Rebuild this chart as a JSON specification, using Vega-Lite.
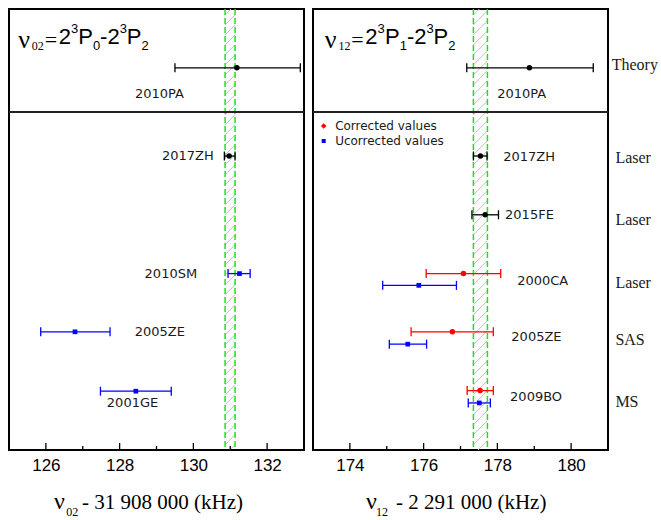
{
"$schema":"https://vega.github.io/schema/vega-lite/v6.json",
"background":"white",
"padding":{"left":7,"top":7,"right":0,"bottom":0},
"spacing":9,
"bounds":"flush",
"config":{"view":{"stroke":"#000000","strokeWidth":2},"axis":{"ticks":false,"domain":false,"grid":false,"labelFont":"Liberation Sans","labelFontSize":17,"labelColor":"#000000","labelPadding":7,"title":null,"labelFlush":false,"tickCount":4}},
"datasets":{
"pts":[
{"p":"L","n":"2010PA","t":"k","v":131.18,"lo":129.50,"hi":132.90,"y":1.0},
{"p":"L","n":"2017ZH","t":"k","v":130.97,"lo":130.84,"hi":131.13,"y":2.5},
{"p":"L","n":"2010SM","t":"b","v":131.25,"lo":130.94,"hi":131.54,"y":4.5},
{"p":"L","n":"2005ZE","t":"b","v":126.79,"lo":125.86,"hi":127.74,"y":5.49},
{"p":"L","n":"2001GE","t":"b","v":128.44,"lo":127.48,"hi":129.40,"y":6.5},
{"p":"R","n":"2010PA","t":"k","v":178.87,"lo":177.17,"hi":180.60,"y":1.0},
{"p":"R","n":"2017ZH","t":"k","v":177.54,"lo":177.35,"hi":177.72,"y":2.5},
{"p":"R","n":"2015FE","t":"k","v":177.67,"lo":177.31,"hi":178.03,"y":3.5},
{"p":"R","n":"2000CA","t":"r","v":177.08,"lo":176.07,"hi":178.09,"y":4.5},
{"p":"R","n":"2000CA","t":"b","v":175.87,"lo":174.89,"hi":176.89,"y":4.7},
{"p":"R","n":"2005ZE","t":"r","v":176.78,"lo":175.66,"hi":177.89,"y":5.49},
{"p":"R","n":"2005ZE","t":"b","v":175.57,"lo":175.07,"hi":176.08,"y":5.7},
{"p":"R","n":"2009BO","t":"r","v":177.53,"lo":177.18,"hi":177.89,"y":6.49},
{"p":"R","n":"2009BO","t":"b","v":177.51,"lo":177.21,"hi":177.81,"y":6.7}
],
"bands":[{"p":"L","lo":130.86,"hi":131.13},{"p":"R","lo":177.35,"hi":177.73}],
"hatch":[{"h":0.10},{"h":0.27},{"h":0.44},{"h":0.61},{"h":0.78},{"h":0.95},{"h":1.12},{"h":1.29},{"h":1.46},{"h":1.63},{"h":1.80},{"h":1.97},{"h":2.14},{"h":2.31},{"h":2.48},{"h":2.65},{"h":2.82},{"h":2.99},{"h":3.16},{"h":3.33},{"h":3.50},{"h":3.67},{"h":3.84},{"h":4.01},{"h":4.18},{"h":4.35},{"h":4.52},{"h":4.69},{"h":4.86},{"h":5.03},{"h":5.20},{"h":5.37},{"h":5.54},{"h":5.71},{"h":5.88},{"h":6.05},{"h":6.22},{"h":6.39},{"h":6.56},{"h":6.73},{"h":6.90},{"h":7.07},{"h":7.24},{"h":7.41},{"h":7.58},{"h":7.75}],
"ticks":[
{"p":"L","x":126,"k":"M"},{"p":"L","x":128,"k":"M"},{"p":"L","x":130,"k":"M"},{"p":"L","x":132,"k":"M"},
{"p":"L","x":127,"k":"m"},{"p":"L","x":129,"k":"m"},{"p":"L","x":131,"k":"m"},
{"p":"R","x":174,"k":"M"},{"p":"R","x":176,"k":"M"},{"p":"R","x":178,"k":"M"},{"p":"R","x":180,"k":"M"},
{"p":"R","x":175,"k":"m"},{"p":"R","x":177,"k":"m"},{"p":"R","x":179,"k":"m"}
],
"lab":[
{"p":"L","x":129.08,"y":1.446,"s":"2010PA"},
{"p":"L","x":129.85,"y":2.5,"s":"2017ZH"},
{"p":"L","x":129.39,"y":4.5,"s":"2010SM"},
{"p":"L","x":129.09,"y":5.49,"s":"2005ZE"},
{"p":"L","x":128.35,"y":6.70,"s":"2001GE"},
{"p":"R","x":178.66,"y":1.446,"s":"2010PA"},
{"p":"R","x":178.86,"y":2.52,"s":"2017ZH"},
{"p":"R","x":178.87,"y":3.5,"s":"2015FE"},
{"p":"R","x":179.23,"y":4.63,"s":"2000CA"},
{"p":"R","x":179.06,"y":5.58,"s":"2005ZE"},
{"p":"R","x":179.05,"y":6.6,"s":"2009BO"}
],
"cats":[
{"x":181.1,"y":0.95,"s":"Theory"},
{"x":181.2,"y":2.53,"s":"Laser"},
{"x":181.2,"y":3.59,"s":"Laser"},
{"x":181.2,"y":4.66,"s":"Laser"},
{"x":181.2,"y":5.63,"s":"SAS"},
{"x":181.2,"y":6.68,"s":"MS"}
],
"leg":[
{"t":"r","x":173.29,"tx":173.60,"y":1.99,"s":"Corrected values"},
{"t":"b","x":173.29,"tx":173.60,"y":2.245,"s":"Ucorrected values"}
],
"txt":[
{"p":"L","k":"s26","x":125.25,"y":0.655,"s":"ν"},
{"p":"L","k":"s12","x":125.62,"y":0.697,"s":"02"},
{"p":"L","k":"eq","x":125.97,"y":0.641,"s":"="},
{"p":"L","k":"a22","x":126.35,"y":0.595,"s":"2"},
{"p":"L","k":"a13","x":126.68,"y":0.408,"s":"3"},
{"p":"L","k":"a22","x":126.88,"y":0.595,"s":"P"},
{"p":"L","k":"a13","x":127.28,"y":0.697,"s":"0"},
{"p":"L","k":"a22","x":127.47,"y":0.595,"s":"-2"},
{"p":"L","k":"a13","x":128.00,"y":0.408,"s":"3"},
{"p":"L","k":"a22","x":128.19,"y":0.595,"s":"P"},
{"p":"L","k":"a13","x":128.59,"y":0.697,"s":"2"},
{"p":"L","k":"s24","x":126.22,"y":8.508,"s":"ν"},
{"p":"L","k":"s12","x":126.55,"y":8.62,"s":"02"},
{"p":"L","k":"s21","x":126.98,"y":8.508,"s":"- 31 908 000 (kHz)"},
{"p":"R","k":"s26","x":173.32,"y":0.655,"s":"ν"},
{"p":"R","k":"s12","x":173.69,"y":0.697,"s":"12"},
{"p":"R","k":"eq","x":174.04,"y":0.641,"s":"="},
{"p":"R","k":"a22","x":174.42,"y":0.595,"s":"2"},
{"p":"R","k":"a13","x":174.75,"y":0.408,"s":"3"},
{"p":"R","k":"a22","x":174.95,"y":0.595,"s":"P"},
{"p":"R","k":"a13","x":175.35,"y":0.697,"s":"1"},
{"p":"R","k":"a22","x":175.55,"y":0.595,"s":"-2"},
{"p":"R","k":"a13","x":176.08,"y":0.408,"s":"3"},
{"p":"R","k":"a22","x":176.27,"y":0.595,"s":"P"},
{"p":"R","k":"a13","x":176.67,"y":0.697,"s":"2"},
{"p":"R","k":"s24","x":174.44,"y":8.508,"s":"ν"},
{"p":"R","k":"s12","x":174.71,"y":8.62,"s":"12"},
{"p":"R","k":"s21","x":175.25,"y":8.508,"s":"- 2 291 000 (kHz)"}
]
},
"hconcat":[
{"width":295,"height":441,
"layer":[
{"data":{"name":"hatch"},"mark":{"type":"rule","color":"#bfbfbf","strokeWidth":1,"y2Offset":-10,"clip":true},
 "encoding":{"x":{"datum":130.86,"type":"quantitative","scale":{"domain":[125,133],"nice":false,"zero":false}},"x2":{"datum":131.13},"y":{"field":"h","type":"quantitative","scale":{"domain":[0,7.5],"reverse":true,"nice":false,"zero":false},"axis":null},"y2":{"field":"h"}}},
{"data":{"name":"bands"},"transform":[{"filter":"datum.p=='L'"}],"mark":{"type":"rule","color":"#1fe01f","strokeWidth":1.5,"strokeDash":[6,3]},
 "encoding":{"x":{"field":"lo","type":"quantitative","scale":{"domain":[125,133],"nice":false,"zero":false}}}},
{"data":{"name":"bands"},"transform":[{"filter":"datum.p=='L'"}],"mark":{"type":"rule","color":"#1fe01f","strokeWidth":1.5,"strokeDash":[6,3]},
 "encoding":{"x":{"field":"hi","type":"quantitative","scale":{"domain":[125,133],"nice":false,"zero":false}}}},
{"data":{"name":"bands"},"transform":[{"filter":"datum.p=='L'"}],"mark":{"type":"rule","color":"#222222","strokeWidth":2},
 "encoding":{"y":{"datum":1.75,"type":"quantitative","scale":{"domain":[0,7.5],"reverse":true,"nice":false,"zero":false},"axis":null}}},
{"data":{"name":"ticks"},"transform":[{"filter":"datum.p=='L' && datum.k=='M'"}],"mark":{"type":"rule","color":"#000000","strokeWidth":1.3,"y2Offset":-7},
 "encoding":{"x":{"field":"x","type":"quantitative","scale":{"domain":[125,133],"nice":false,"zero":false}},"y":{"datum":7.5,"type":"quantitative","scale":{"domain":[0,7.5],"reverse":true,"nice":false,"zero":false},"axis":null},"y2":{"datum":7.5}}},
{"data":{"name":"ticks"},"transform":[{"filter":"datum.p=='L' && datum.k=='m'"}],"mark":{"type":"rule","color":"#000000","strokeWidth":1.3,"y2Offset":-4},
 "encoding":{"x":{"field":"x","type":"quantitative","scale":{"domain":[125,133],"nice":false,"zero":false}},"y":{"datum":7.5,"type":"quantitative","scale":{"domain":[0,7.5],"reverse":true,"nice":false,"zero":false},"axis":null},"y2":{"datum":7.5}}},
{"data":{"name":"pts"},"transform":[{"filter":"datum.p=='L'"}],"mark":{"type":"rule","strokeWidth":1.3},
 "encoding":{"x":{"field":"lo","type":"quantitative","scale":{"domain":[125,133],"nice":false,"zero":false}},"x2":{"field":"hi"},"y":{"field":"y","type":"quantitative","scale":{"domain":[0,7.5],"reverse":true,"nice":false,"zero":false},"axis":null},
 "color":{"field":"t","type":"nominal","scale":{"domain":["k","r","b"],"range":["#000000","#ff0000","#0000ff"]},"legend":null}}},
{"data":{"name":"pts"},"transform":[{"filter":"datum.p=='L'"}],"mark":{"type":"point","shape":"M0,-1L0,1","size":81,"filled":false,"strokeWidth":1.3,"opacity":1},
 "encoding":{"x":{"field":"lo","type":"quantitative","scale":{"domain":[125,133],"nice":false,"zero":false}},"y":{"field":"y","type":"quantitative","scale":{"domain":[0,7.5],"reverse":true,"nice":false,"zero":false},"axis":null},
 "color":{"field":"t","type":"nominal","scale":{"domain":["k","r","b"],"range":["#000000","#ff0000","#0000ff"]},"legend":null}}},
{"data":{"name":"pts"},"transform":[{"filter":"datum.p=='L'"}],"mark":{"type":"point","shape":"M0,-1L0,1","size":81,"filled":false,"strokeWidth":1.3,"opacity":1},
 "encoding":{"x":{"field":"hi","type":"quantitative","scale":{"domain":[125,133],"nice":false,"zero":false}},"y":{"field":"y","type":"quantitative","scale":{"domain":[0,7.5],"reverse":true,"nice":false,"zero":false},"axis":null},
 "color":{"field":"t","type":"nominal","scale":{"domain":["k","r","b"],"range":["#000000","#ff0000","#0000ff"]},"legend":null}}},
{"data":{"name":"pts"},"transform":[{"filter":"datum.p=='L' && datum.t!='b'"}],"mark":{"type":"point","shape":"circle","size":30,"filled":true,"opacity":1},
 "encoding":{"x":{"field":"v","type":"quantitative","scale":{"domain":[125,133],"nice":false,"zero":false}},"y":{"field":"y","type":"quantitative","scale":{"domain":[0,7.5],"reverse":true,"nice":false,"zero":false},"axis":null},
 "color":{"field":"t","type":"nominal","scale":{"domain":["k","r","b"],"range":["#000000","#ff0000","#0000ff"]},"legend":null}}},
{"data":{"name":"pts"},"transform":[{"filter":"datum.p=='L' && datum.t=='b'"}],"mark":{"type":"point","shape":"square","size":22,"filled":true,"opacity":1},
 "encoding":{"x":{"field":"v","type":"quantitative","scale":{"domain":[125,133],"nice":false,"zero":false}},"y":{"field":"y","type":"quantitative","scale":{"domain":[0,7.5],"reverse":true,"nice":false,"zero":false},"axis":null},
 "color":{"field":"t","type":"nominal","scale":{"domain":["k","r","b"],"range":["#000000","#ff0000","#0000ff"]},"legend":null}}},
{"data":{"name":"lab"},"transform":[{"filter":"datum.p=='L'"}],"mark":{"type":"text","font":"DejaVu Sans","fontSize":13,"align":"center","baseline":"middle","color":"#1a1a1a"},
 "encoding":{"x":{"field":"x","type":"quantitative","scale":{"domain":[125,133],"nice":false,"zero":false}},"y":{"field":"y","type":"quantitative","scale":{"domain":[0,7.5],"reverse":true,"nice":false,"zero":false},"axis":null},"text":{"field":"s"}}},
{"data":{"name":"txt"},"transform":[{"filter":"datum.p=='L' && datum.k=='s26'"}],"mark":{"type":"text","font":"Liberation Serif","fontSize":26,"align":"left","baseline":"alphabetic","color":"#000000"},
 "encoding":{"x":{"field":"x","type":"quantitative","scale":{"domain":[125,133],"nice":false,"zero":false}},"y":{"field":"y","type":"quantitative","scale":{"domain":[0,7.5],"reverse":true,"nice":false,"zero":false},"axis":null},"text":{"field":"s"}}},
{"data":{"name":"txt"},"transform":[{"filter":"datum.p=='L' && datum.k=='s24'"}],"mark":{"type":"text","font":"Liberation Serif","fontSize":24,"align":"left","baseline":"alphabetic","color":"#000000"},
 "encoding":{"x":{"field":"x","type":"quantitative","scale":{"domain":[125,133],"nice":false,"zero":false}},"y":{"field":"y","type":"quantitative","scale":{"domain":[0,7.5],"reverse":true,"nice":false,"zero":false},"axis":null},"text":{"field":"s"}}},
{"data":{"name":"txt"},"transform":[{"filter":"datum.p=='L' && datum.k=='eq'"}],"mark":{"type":"text","font":"Liberation Serif","fontSize":22,"align":"left","baseline":"alphabetic","color":"#000000"},
 "encoding":{"x":{"field":"x","type":"quantitative","scale":{"domain":[125,133],"nice":false,"zero":false}},"y":{"field":"y","type":"quantitative","scale":{"domain":[0,7.5],"reverse":true,"nice":false,"zero":false},"axis":null},"text":{"field":"s"}}},
{"data":{"name":"txt"},"transform":[{"filter":"datum.p=='L' && datum.k=='s12'"}],"mark":{"type":"text","font":"Liberation Serif","fontSize":12,"align":"left","baseline":"alphabetic","color":"#000000"},
 "encoding":{"x":{"field":"x","type":"quantitative","scale":{"domain":[125,133],"nice":false,"zero":false}},"y":{"field":"y","type":"quantitative","scale":{"domain":[0,7.5],"reverse":true,"nice":false,"zero":false},"axis":null},"text":{"field":"s"}}},
{"data":{"name":"txt"},"transform":[{"filter":"datum.p=='L' && datum.k=='s21'"}],"mark":{"type":"text","font":"Liberation Serif","fontSize":21,"align":"left","baseline":"alphabetic","color":"#000000"},
 "encoding":{"x":{"field":"x","type":"quantitative","scale":{"domain":[125,133],"nice":false,"zero":false}},"y":{"field":"y","type":"quantitative","scale":{"domain":[0,7.5],"reverse":true,"nice":false,"zero":false},"axis":null},"text":{"field":"s"}}},
{"data":{"name":"txt"},"transform":[{"filter":"datum.p=='L' && datum.k=='a22'"}],"mark":{"type":"text","font":"Liberation Sans","fontSize":22,"align":"left","baseline":"alphabetic","color":"#000000"},
 "encoding":{"x":{"field":"x","type":"quantitative","scale":{"domain":[125,133],"nice":false,"zero":false}},"y":{"field":"y","type":"quantitative","scale":{"domain":[0,7.5],"reverse":true,"nice":false,"zero":false},"axis":null},"text":{"field":"s"}}},
{"data":{"name":"txt"},"transform":[{"filter":"datum.p=='L' && datum.k=='a13'"}],"mark":{"type":"text","font":"Liberation Sans","fontSize":13,"align":"left","baseline":"alphabetic","color":"#000000"},
 "encoding":{"x":{"field":"x","type":"quantitative","scale":{"domain":[125,133],"nice":false,"zero":false}},"y":{"field":"y","type":"quantitative","scale":{"domain":[0,7.5],"reverse":true,"nice":false,"zero":false},"axis":null},"text":{"field":"s"}}}
]},
{"width":295,"height":441,
"layer":[
{"data":{"name":"hatch"},"mark":{"type":"rule","color":"#bfbfbf","strokeWidth":1,"y2Offset":-14,"clip":true},
 "encoding":{"x":{"datum":177.35,"type":"quantitative","scale":{"domain":[173,181],"nice":false,"zero":false}},"x2":{"datum":177.73},"y":{"field":"h","type":"quantitative","scale":{"domain":[0,7.5],"reverse":true,"nice":false,"zero":false},"axis":null},"y2":{"field":"h"}}},
{"data":{"name":"bands"},"transform":[{"filter":"datum.p=='R'"}],"mark":{"type":"rule","color":"#1fe01f","strokeWidth":1.5,"strokeDash":[6,3]},
 "encoding":{"x":{"field":"lo","type":"quantitative","scale":{"domain":[173,181],"nice":false,"zero":false}}}},
{"data":{"name":"bands"},"transform":[{"filter":"datum.p=='R'"}],"mark":{"type":"rule","color":"#1fe01f","strokeWidth":1.5,"strokeDash":[6,3]},
 "encoding":{"x":{"field":"hi","type":"quantitative","scale":{"domain":[173,181],"nice":false,"zero":false}}}},
{"data":{"name":"bands"},"transform":[{"filter":"datum.p=='R'"}],"mark":{"type":"rule","color":"#222222","strokeWidth":2},
 "encoding":{"y":{"datum":1.75,"type":"quantitative","scale":{"domain":[0,7.5],"reverse":true,"nice":false,"zero":false},"axis":null}}},
{"data":{"name":"ticks"},"transform":[{"filter":"datum.p=='R' && datum.k=='M'"}],"mark":{"type":"rule","color":"#000000","strokeWidth":1.3,"y2Offset":-7},
 "encoding":{"x":{"field":"x","type":"quantitative","scale":{"domain":[173,181],"nice":false,"zero":false}},"y":{"datum":7.5,"type":"quantitative","scale":{"domain":[0,7.5],"reverse":true,"nice":false,"zero":false},"axis":null},"y2":{"datum":7.5}}},
{"data":{"name":"ticks"},"transform":[{"filter":"datum.p=='R' && datum.k=='m'"}],"mark":{"type":"rule","color":"#000000","strokeWidth":1.3,"y2Offset":-4},
 "encoding":{"x":{"field":"x","type":"quantitative","scale":{"domain":[173,181],"nice":false,"zero":false}},"y":{"datum":7.5,"type":"quantitative","scale":{"domain":[0,7.5],"reverse":true,"nice":false,"zero":false},"axis":null},"y2":{"datum":7.5}}},
{"data":{"name":"pts"},"transform":[{"filter":"datum.p=='R'"}],"mark":{"type":"rule","strokeWidth":1.3},
 "encoding":{"x":{"field":"lo","type":"quantitative","scale":{"domain":[173,181],"nice":false,"zero":false}},"x2":{"field":"hi"},"y":{"field":"y","type":"quantitative","scale":{"domain":[0,7.5],"reverse":true,"nice":false,"zero":false},"axis":null},
 "color":{"field":"t","type":"nominal","scale":{"domain":["k","r","b"],"range":["#000000","#ff0000","#0000ff"]},"legend":null}}},
{"data":{"name":"pts"},"transform":[{"filter":"datum.p=='R'"}],"mark":{"type":"point","shape":"M0,-1L0,1","size":81,"filled":false,"strokeWidth":1.3,"opacity":1},
 "encoding":{"x":{"field":"lo","type":"quantitative","scale":{"domain":[173,181],"nice":false,"zero":false}},"y":{"field":"y","type":"quantitative","scale":{"domain":[0,7.5],"reverse":true,"nice":false,"zero":false},"axis":null},
 "color":{"field":"t","type":"nominal","scale":{"domain":["k","r","b"],"range":["#000000","#ff0000","#0000ff"]},"legend":null}}},
{"data":{"name":"pts"},"transform":[{"filter":"datum.p=='R'"}],"mark":{"type":"point","shape":"M0,-1L0,1","size":81,"filled":false,"strokeWidth":1.3,"opacity":1},
 "encoding":{"x":{"field":"hi","type":"quantitative","scale":{"domain":[173,181],"nice":false,"zero":false}},"y":{"field":"y","type":"quantitative","scale":{"domain":[0,7.5],"reverse":true,"nice":false,"zero":false},"axis":null},
 "color":{"field":"t","type":"nominal","scale":{"domain":["k","r","b"],"range":["#000000","#ff0000","#0000ff"]},"legend":null}}},
{"data":{"name":"pts"},"transform":[{"filter":"datum.p=='R' && datum.t!='b'"}],"mark":{"type":"point","shape":"circle","size":30,"filled":true,"opacity":1},
 "encoding":{"x":{"field":"v","type":"quantitative","scale":{"domain":[173,181],"nice":false,"zero":false}},"y":{"field":"y","type":"quantitative","scale":{"domain":[0,7.5],"reverse":true,"nice":false,"zero":false},"axis":null},
 "color":{"field":"t","type":"nominal","scale":{"domain":["k","r","b"],"range":["#000000","#ff0000","#0000ff"]},"legend":null}}},
{"data":{"name":"pts"},"transform":[{"filter":"datum.p=='R' && datum.t=='b'"}],"mark":{"type":"point","shape":"square","size":22,"filled":true,"opacity":1},
 "encoding":{"x":{"field":"v","type":"quantitative","scale":{"domain":[173,181],"nice":false,"zero":false}},"y":{"field":"y","type":"quantitative","scale":{"domain":[0,7.5],"reverse":true,"nice":false,"zero":false},"axis":null},
 "color":{"field":"t","type":"nominal","scale":{"domain":["k","r","b"],"range":["#000000","#ff0000","#0000ff"]},"legend":null}}},
{"data":{"name":"leg"},"transform":[{"filter":"datum.t=='r'"}],"mark":{"type":"point","shape":"diamond","size":30,"filled":true,"opacity":1},
 "encoding":{"x":{"field":"x","type":"quantitative","scale":{"domain":[173,181],"nice":false,"zero":false}},"y":{"field":"y","type":"quantitative","scale":{"domain":[0,7.5],"reverse":true,"nice":false,"zero":false},"axis":null},
 "color":{"field":"t","type":"nominal","scale":{"domain":["k","r","b"],"range":["#000000","#ff0000","#0000ff"]},"legend":null}}},
{"data":{"name":"leg"},"transform":[{"filter":"datum.t=='b'"}],"mark":{"type":"point","shape":"square","size":16,"filled":true,"opacity":1},
 "encoding":{"x":{"field":"x","type":"quantitative","scale":{"domain":[173,181],"nice":false,"zero":false}},"y":{"field":"y","type":"quantitative","scale":{"domain":[0,7.5],"reverse":true,"nice":false,"zero":false},"axis":null},
 "color":{"field":"t","type":"nominal","scale":{"domain":["k","r","b"],"range":["#000000","#ff0000","#0000ff"]},"legend":null}}},
{"data":{"name":"leg"},"mark":{"type":"text","font":"DejaVu Sans","fontSize":12,"align":"left","baseline":"middle","color":"#1a1a1a"},
 "encoding":{"x":{"field":"tx","type":"quantitative","scale":{"domain":[173,181],"nice":false,"zero":false}},"y":{"field":"y","type":"quantitative","scale":{"domain":[0,7.5],"reverse":true,"nice":false,"zero":false},"axis":null},"text":{"field":"s"}}},
{"data":{"name":"cats"},"mark":{"type":"text","font":"Liberation Serif","fontSize":16,"align":"left","baseline":"middle","color":"#1a1a1a"},
 "encoding":{"x":{"field":"x","type":"quantitative","scale":{"domain":[173,181],"nice":false,"zero":false}},"y":{"field":"y","type":"quantitative","scale":{"domain":[0,7.5],"reverse":true,"nice":false,"zero":false},"axis":null},"text":{"field":"s"}}},
{"data":{"name":"lab"},"transform":[{"filter":"datum.p=='R'"}],"mark":{"type":"text","font":"DejaVu Sans","fontSize":13,"align":"center","baseline":"middle","color":"#1a1a1a"},
 "encoding":{"x":{"field":"x","type":"quantitative","scale":{"domain":[173,181],"nice":false,"zero":false}},"y":{"field":"y","type":"quantitative","scale":{"domain":[0,7.5],"reverse":true,"nice":false,"zero":false},"axis":null},"text":{"field":"s"}}},
{"data":{"name":"txt"},"transform":[{"filter":"datum.p=='R' && datum.k=='s26'"}],"mark":{"type":"text","font":"Liberation Serif","fontSize":26,"align":"left","baseline":"alphabetic","color":"#000000"},
 "encoding":{"x":{"field":"x","type":"quantitative","scale":{"domain":[173,181],"nice":false,"zero":false}},"y":{"field":"y","type":"quantitative","scale":{"domain":[0,7.5],"reverse":true,"nice":false,"zero":false},"axis":null},"text":{"field":"s"}}},
{"data":{"name":"txt"},"transform":[{"filter":"datum.p=='R' && datum.k=='s24'"}],"mark":{"type":"text","font":"Liberation Serif","fontSize":24,"align":"left","baseline":"alphabetic","color":"#000000"},
 "encoding":{"x":{"field":"x","type":"quantitative","scale":{"domain":[173,181],"nice":false,"zero":false}},"y":{"field":"y","type":"quantitative","scale":{"domain":[0,7.5],"reverse":true,"nice":false,"zero":false},"axis":null},"text":{"field":"s"}}},
{"data":{"name":"txt"},"transform":[{"filter":"datum.p=='R' && datum.k=='eq'"}],"mark":{"type":"text","font":"Liberation Serif","fontSize":22,"align":"left","baseline":"alphabetic","color":"#000000"},
 "encoding":{"x":{"field":"x","type":"quantitative","scale":{"domain":[173,181],"nice":false,"zero":false}},"y":{"field":"y","type":"quantitative","scale":{"domain":[0,7.5],"reverse":true,"nice":false,"zero":false},"axis":null},"text":{"field":"s"}}},
{"data":{"name":"txt"},"transform":[{"filter":"datum.p=='R' && datum.k=='s12'"}],"mark":{"type":"text","font":"Liberation Serif","fontSize":12,"align":"left","baseline":"alphabetic","color":"#000000"},
 "encoding":{"x":{"field":"x","type":"quantitative","scale":{"domain":[173,181],"nice":false,"zero":false}},"y":{"field":"y","type":"quantitative","scale":{"domain":[0,7.5],"reverse":true,"nice":false,"zero":false},"axis":null},"text":{"field":"s"}}},
{"data":{"name":"txt"},"transform":[{"filter":"datum.p=='R' && datum.k=='s21'"}],"mark":{"type":"text","font":"Liberation Serif","fontSize":21,"align":"left","baseline":"alphabetic","color":"#000000"},
 "encoding":{"x":{"field":"x","type":"quantitative","scale":{"domain":[173,181],"nice":false,"zero":false}},"y":{"field":"y","type":"quantitative","scale":{"domain":[0,7.5],"reverse":true,"nice":false,"zero":false},"axis":null},"text":{"field":"s"}}},
{"data":{"name":"txt"},"transform":[{"filter":"datum.p=='R' && datum.k=='a22'"}],"mark":{"type":"text","font":"Liberation Sans","fontSize":22,"align":"left","baseline":"alphabetic","color":"#000000"},
 "encoding":{"x":{"field":"x","type":"quantitative","scale":{"domain":[173,181],"nice":false,"zero":false}},"y":{"field":"y","type":"quantitative","scale":{"domain":[0,7.5],"reverse":true,"nice":false,"zero":false},"axis":null},"text":{"field":"s"}}},
{"data":{"name":"txt"},"transform":[{"filter":"datum.p=='R' && datum.k=='a13'"}],"mark":{"type":"text","font":"Liberation Sans","fontSize":13,"align":"left","baseline":"alphabetic","color":"#000000"},
 "encoding":{"x":{"field":"x","type":"quantitative","scale":{"domain":[173,181],"nice":false,"zero":false}},"y":{"field":"y","type":"quantitative","scale":{"domain":[0,7.5],"reverse":true,"nice":false,"zero":false},"axis":null},"text":{"field":"s"}}}
]}
]
}
